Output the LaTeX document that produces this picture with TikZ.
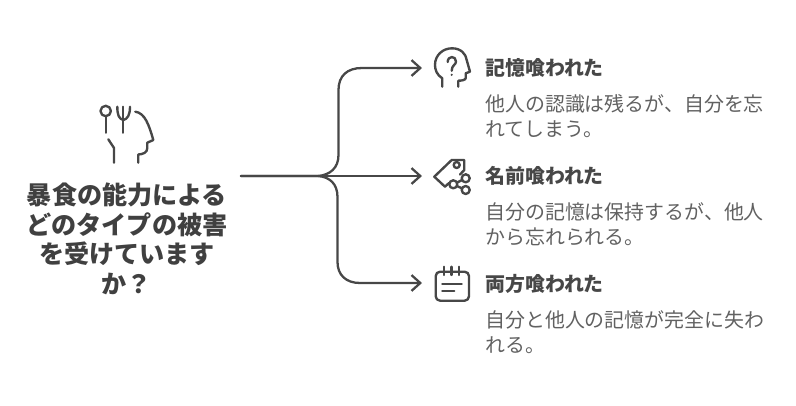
\documentclass[tikz,border=0pt]{standalone}
\usepackage{fontspec}
\setmainfont{Noto Sans CJK JP}
\usetikzlibrary{arrows.meta}
\colorlet{myink}{black!72}
\colorlet{mytitle}{black!75}
\colorlet{myhead}{black!72}
\colorlet{mybody}{black!62}

\begin{document}
\begin{tikzpicture}[
  x=0.02cm, y=-0.02cm,
  title/.style={font=\bfseries\fontsize{14.3}{16.9}\selectfont, text=mytitle, align=center},
  head/.style ={font=\bfseries\fontsize{11.34}{13.6}\selectfont, text=myhead, anchor=west, inner sep=0pt},
  body/.style ={font=\fontsize{11.34}{14.2}\selectfont, text=mybody, anchor=north west, align=left, inner sep=0pt},
  conn/.style ={draw=myink, line width=1.3pt, line cap=round,
                -{Straight Barb[length=5pt,width=9pt,line width=1.3pt]}},
  icon/.style ={draw=myink, line width=1.35pt, line cap=round, line join=round},
]
\useasboundingbox (0,0) rectangle (796,406);

% ==================================================== left: icon and question
\draw[icon] (105.7,111) circle (5.2);
\draw[icon] (105.7,116.2) -- (105.7,132.7);
\draw[icon] (123.3,106.7) -- (123.3,132.7);
\draw[icon] (117.3,106.7) .. controls (117.3,115) and (119,119) .. (123.3,120)
            .. controls (127.6,119) and (130,115) .. (130,106.7);
\draw[icon] (135.3,111.7) .. controls (145,113) and (149,125) .. (153.3,140)
            -- (147.3,142.7) -- (147.3,148) .. controls (147.3,152.5) and (143,154.3) .. (138.3,154.5) -- (138.3,162.7);
\draw[icon] (108.3,139.3) -- (114,148) -- (114,162.7);

\node[title] (question) at (127,239) {暴食の能力による\\どのタイプの被害\\を受けています\\か？};

% ==================================================== connectors
\coordinate (src) at (241,176);
\coordinate (join) at (318,176);
\coordinate (memend) at (422,68);
\coordinate (nameend) at (422,176);
\coordinate (bothend) at (422,283);

\draw[conn] (src) -- (join) .. controls (330,175) and (338.5,168) .. (338.5,155)
  -- (338.5,90) .. controls (338.5,76) and (347,68) .. (362,68) -- (memend);
\draw[conn] (src) -- (nameend);
\draw[conn] (src) -- (join) .. controls (330,177) and (337.5,184) .. (337.5,197)
  -- (337.5,262) .. controls (337.5,275) and (346,283) .. (360,283) -- (bothend);

% ==================================================== right: three types
% head with question mark
\draw[icon] (442.3,86.7) -- (442.3,78.3) .. controls (437,75) and (435,70) .. (435,65)
  .. controls (435,55) and (443,48.3) .. (452,48.3) .. controls (461,48.3) and (466,54) .. (466.7,60)
  -- (470,71.7) -- (465.7,73.3) -- (465.7,78) .. controls (465.7,80) and (462,80.7) .. (458.3,80.7) -- (458.3,86.7);
\draw[icon] (447.7,62) .. controls (447.7,55.5) and (456,55.5) .. (456,61.5)
  .. controls (456,65) and (451.7,65) .. (451.7,70.7);
\fill[myink] (451.7,74.8) circle (1.2);
\node[head] (memhead) at (485,68) {記憶喰われた};
\node[body] (membody) at (485,94.5) {他人の認識は残るが、自分を忘\\れてしまう。};

% tag with share mark
\draw[icon] (449,183) -- (445,186.7) -- (434.3,176.7) -- (451.7,160) -- (464.3,160) -- (464.3,170) -- (460,174.5);
\draw[icon] (456.7,165) circle (3);
\draw[icon] (465.7,178.3) circle (4);
\draw[icon] (453.3,184.3) circle (4);
\draw[icon] (465.7,190) circle (4);
\draw[icon] (456.9,182.6) -- (462.1,180);
\draw[icon] (456.9,186) -- (462.1,188.4);
\node[head] (namehead) at (485,176) {名前喰われた};
\node[body] (namebody) at (485,202.5) {自分の記憶は保持するが、他人\\から忘れられる。};

% calendar note
\draw[icon, rounded corners=2.5pt] (435.7,271.7) rectangle (469,300.7);
\draw[icon] (444.3,266.7) -- (444.3,275);
\draw[icon] (451.5,266.7) -- (451.5,275);
\draw[icon] (459.3,266.7) -- (459.3,275);
\draw[icon] (442.3,284) -- (461.7,284);
\draw[icon] (442.3,291) -- (454.3,291);
\node[head] (bothhead) at (485,284) {両方喰われた};
\node[body] (bothbody) at (485,310.5) {自分と他人の記憶が完全に失わ\\れる。};

\end{tikzpicture}
\end{document}
